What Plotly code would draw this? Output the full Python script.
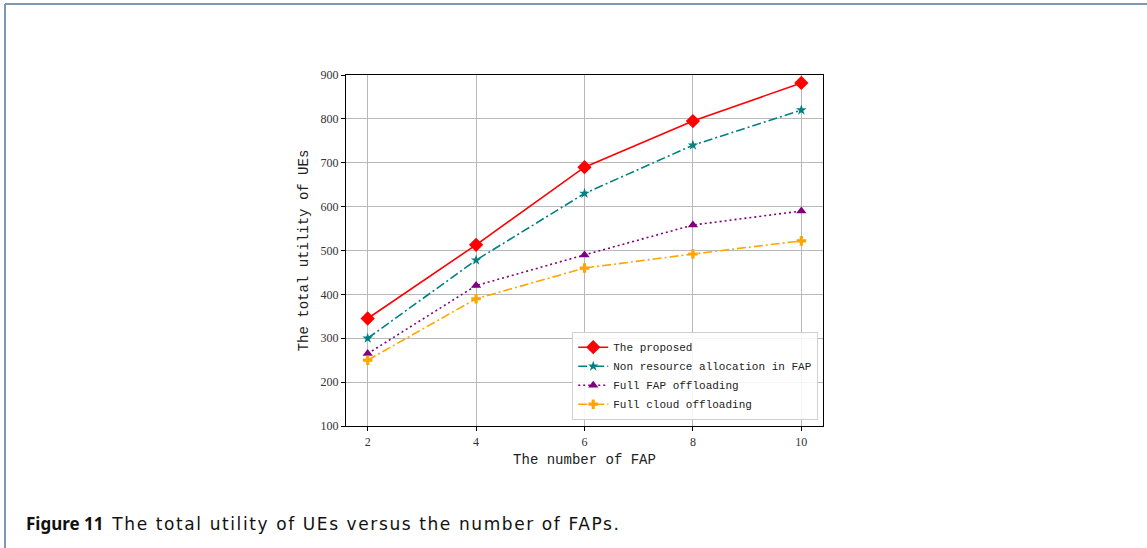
import plotly.graph_objects as go

# Number of FAPs
fap_counts = [2, 4, 6, 8, 10]

# Total utility of UEs for each scheme
proposed = [345, 513, 690, 795, 882]
non_resource_alloc = [300, 478, 630, 740, 820]
full_fap_offload = [265, 420, 490, 558, 590]
full_cloud_offload = [250, 390, 460, 492, 522]

series_names = [
    "The proposed",
    "Non resource allocation in FAP",
    "Full FAP offloading",
    "Full cloud offloading",
]

y_ticks = [100, 200, 300, 400, 500, 600, 700, 800, 900]
x_ticks = [2, 4, 6, 8, 10]

mono = "Liberation Mono"
serif = "Liberation Serif"

fig = go.Figure()

dashdot = "9px,3px,2px,3px"
dotted = "2px,3px"

styles = [
    (proposed, "#ff0000", "solid", "diamond", 11),
    (non_resource_alloc, "#008080", dashdot, "star", 8),
    (full_fap_offload, "#800080", dotted, "triangle-up", 9),
    (full_cloud_offload, "#ffa500", dashdot, "cross", 8),
]

for name, (vals, color, dash, sym, size) in zip(series_names, styles):
    fig.add_trace(go.Scatter(
        x=fap_counts, y=vals, name=name, mode="lines+markers",
        line=dict(color=color, width=1.6, dash=dash),
        marker=dict(symbol=sym, size=size, color=color, line=dict(width=0)),
    ))

axis_common = dict(
    showline=True, linecolor="black", linewidth=1.2, mirror=True,
    ticks="outside", ticklen=4, tickcolor="black",
    showgrid=True, gridcolor="#b8b8b8", gridwidth=1,
    zeroline=False,
    tickfont=dict(family=serif, size=12, color="#333333"),
)

fig.update_xaxes(
    range=[1.6, 10.4], tickvals=x_ticks,
    title=dict(text="The number of FAP", font=dict(family=mono, size=14, color="#222222"), standoff=6),
    **axis_common,
)
fig.update_yaxes(
    range=[100, 900], tickvals=y_ticks,
    title=dict(text="The total utility of UEs", font=dict(family=mono, size=14, color="#222222"), standoff=8),
    **axis_common,
)

fig.update_layout(
    width=1147, height=548,
    margin=dict(l=346, r=324, t=75, b=122),
    paper_bgcolor="white", plot_bgcolor="white",
    showlegend=True,
    legend=dict(
        x=0.99, y=0.018, xanchor="right", yanchor="bottom",
        bgcolor="rgba(255,255,255,0.85)", bordercolor="#d0d0d0", borderwidth=1,
        font=dict(family=mono, size=11, color="#222222"),
        tracegroupgap=0, itemwidth=30,
    ),
)

# Page frame
fig.add_shape(type="line", xref="paper", yref="paper",
              x0=-346 / 477 + 5 / 477, x1=(1147 - 346) / 477 + 0.01,
              y0=(426 - 4) / 351, y1=(426 - 4) / 351,
              line=dict(color="#7d97b5", width=2), layer="above")
fig.add_shape(type="line", xref="paper", yref="paper",
              x0=(5 - 346) / 477, x1=(5 - 346) / 477,
              y0=(426 - 4) / 351, y1=(426 - 560) / 351,
              line=dict(color="#7d97b5", width=2), layer="above")

# Caption
fig.add_annotation(
    xref="paper", yref="paper", x=(24 - 346) / 477, y=(426 - 523) / 351,
    xanchor="left", yanchor="middle", showarrow=False,
    text=("<b>Figure 11</b>  <span style='font-family:DejaVu Sans;letter-spacing:1.6px'>"
          "The total utility of UEs versus the number of FAPs.</span>"),
    font=dict(family="Noto Sans", size=17, color="#111111"),
)

fig.write_html("out.html")
